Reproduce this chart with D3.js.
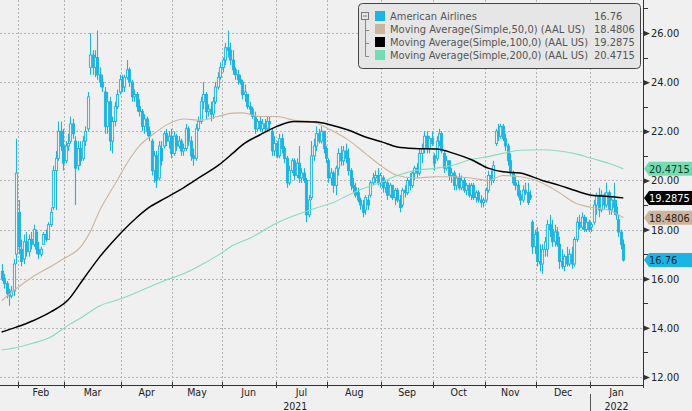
<!DOCTYPE html>
<meta charset="utf-8">
<style>
  body { margin: 0; background: #f0f0f0; }
  text { font-family: "DejaVu Sans Condensed", "DejaVu Sans", sans-serif; }
</style>
<body>
<script src="https://d3js.org/d3.v7.min.js"></script>
<script>
var width = 692, height = 411;

// month tick labels and index of each month's first trading day
var months = ["Feb", "Mar", "Apr", "May", "Jun", "Jul", "Aug", "Sep", "Oct", "Nov", "Dec", "Jan"];
var monthStart = [7, 26, 49, 70, 90, 112, 133, 155, 176, 197, 218, 240];
var years = ["2021", "2022"];
var yearStart = [0, 240];
var yTicks = [12, 14, 16, 18, 20, 22, 24, 26];

// daily candles, Jan 21 2021 .. Jan 21 2022: [open, high, low, close]
var candles = [
  [16.3,16.6,15.9,16.0],[16.0,16.2,15.6,15.8],[15.8,15.9,15.2,15.4],[15.4,15.6,14.9,15.3],
  [15.3,15.7,15.2,15.5],[15.5,16.8,15.3,16.6],[17.0,21.7,16.6,20.3],[18.7,19.2,17.0,17.3],
  [17.2,17.6,16.5,16.7],[16.8,17.8,16.6,17.5],[17.5,17.9,16.9,17.1],[17.1,17.8,16.9,17.6],
  [17.6,17.9,17.2,17.4],[17.4,18.2,17.3,18.0],[17.9,18.0,17.0,17.2],[17.2,17.5,16.8,17.0],
  [17.0,17.3,16.9,17.2],[17.4,17.9,17.4,17.8],[17.8,18.0,17.5,17.6],[17.6,18.3,17.6,18.2],
  [18.2,18.9,18.1,18.7],[18.9,20.6,18.8,20.4],[20.4,21.2,18.8,20.9],[20.9,22.4,20.8,22.0],
  [22.0,22.4,21.2,21.4],[21.4,22.1,20.4,20.7],[20.8,21.6,20.7,21.4],[21.4,21.9,21.2,21.5],
  [21.6,22.6,21.5,22.3],[22.3,22.5,21.7,21.9],[21.6,21.8,19.0,20.5],[20.6,21.6,20.4,21.3],
  [21.3,21.6,20.6,20.8],[20.9,21.8,20.8,21.6],[21.6,22.2,21.4,22.0],[22.1,23.6,22.0,23.4],
  [24.6,26.0,24.3,25.1],[25.1,25.3,24.3,24.6],[24.6,25.3,24.2,25.0],[25.0,26.1,24.1,24.3],
  [24.3,24.6,23.8,24.0],[24.0,24.3,23.6,23.8],[23.6,23.8,21.9,22.2],[22.2,23.6,21.9,23.2],
  [23.2,23.4,21.2,21.6],[21.6,22.6,21.1,22.4],[22.4,23.2,22.2,23.0],[23.0,23.7,22.9,23.5],
  [23.6,24.3,23.5,24.1],[24.1,24.3,23.6,23.8],[23.8,24.3,23.6,24.2],[24.2,24.9,24.1,24.5],
  [24.5,24.6,23.8,24.0],[24.0,24.1,23.2,23.4],[23.4,23.7,23.2,23.5],[23.5,23.6,22.8,23.0],
  [23.0,23.3,22.6,22.8],[22.8,22.9,22.0,22.2],[22.2,22.7,21.9,22.5],[22.5,22.6,21.8,22.0],
  [22.0,22.2,21.6,21.8],[21.6,21.7,20.2,20.4],[20.4,21.2,19.9,21.0],[21.0,21.2,19.7,20.0],
  [20.1,21.6,20.0,21.4],[21.3,21.6,20.6,20.8],[21.4,22.0,21.3,21.9],[21.9,22.1,21.4,21.6],
  [21.6,22.0,21.3,21.8],[21.8,22.1,20.9,21.1],[21.1,22.0,21.0,21.8],[21.8,21.9,21.2,21.4],
  [21.4,21.8,21.3,21.6],[21.6,21.7,21.0,21.2],[21.2,21.5,21.0,21.3],[21.3,22.3,21.2,22.1],
  [22.1,22.2,21.4,21.6],[21.6,21.8,20.8,21.0],[21.0,21.3,20.6,20.9],[20.9,22.3,20.8,22.1],
  [22.1,22.6,22.0,22.4],[22.4,23.4,22.3,23.2],[23.2,24.0,22.9,23.5],[23.5,23.6,22.5,22.8],
  [22.8,23.1,22.6,22.9],[22.9,23.2,22.4,22.7],[22.7,23.4,22.5,23.2],[23.2,24.0,23.1,23.8],
  [23.8,24.4,23.7,24.2],[24.2,24.8,24.1,24.6],[24.6,25.0,24.4,24.9],[24.9,25.6,24.7,25.4],
  [25.4,26.1,25.0,25.3],[25.3,25.6,24.7,24.9],[24.9,25.3,24.3,24.5],[24.5,24.6,24.1,24.3],
  [24.3,24.5,23.9,24.1],[24.1,24.3,23.9,24.0],[24.0,24.1,23.3,23.5],[23.5,23.9,23.2,23.6],
  [23.5,23.5,22.9,23.0],[23.0,23.2,22.7,22.9],[22.9,23.0,22.5,22.6],[22.6,22.8,21.9,22.1],
  [22.1,22.5,22.0,22.4],[22.4,22.6,22.0,22.1],[22.1,22.5,21.9,22.3],[22.3,22.5,22.0,22.1],
  [22.1,22.6,22.0,22.4],[22.4,22.6,22.1,22.3],[22.0,22.1,21.0,21.2],[21.2,21.8,21.0,21.5],
  [21.5,21.6,20.9,21.0],[21.0,21.9,20.9,21.7],[21.7,21.9,21.1,21.3],[21.3,21.4,20.7,20.9],
  [20.9,21.0,19.7,19.9],[19.9,20.6,19.8,20.4],[20.4,20.9,20.3,20.8],[20.8,20.9,20.0,20.2],
  [20.2,20.9,20.1,20.7],[20.7,21.4,19.9,20.1],[20.1,20.5,19.9,20.3],[20.3,20.5,19.9,20.0],
  [20.0,20.1,18.3,18.6],[18.6,19.4,18.5,19.2],[19.3,21.6,19.2,21.0],[21.0,21.7,20.8,21.4],
  [21.4,22.2,21.2,21.9],[21.9,22.1,21.5,21.6],[21.6,22.2,21.5,22.0],[22.0,22.0,21.1,21.3],
  [21.3,21.4,20.7,20.9],[20.8,20.9,19.9,20.1],[20.1,20.5,19.8,20.3],[20.3,20.4,19.5,19.8],
  [19.8,20.6,19.4,20.5],[20.5,21.3,20.2,21.1],[21.1,21.4,20.6,20.8],[20.8,21.4,20.6,21.2],
  [21.2,21.5,20.7,20.9],[20.9,21.3,20.2,20.4],[20.4,20.5,19.6,19.8],[19.8,20.1,19.5,19.7],
  [19.7,19.9,19.3,19.4],[19.5,19.7,19.1,19.2],[19.2,19.3,18.8,19.0],[19.0,19.2,18.5,18.7],
  [18.8,19.4,18.6,19.3],[19.2,19.4,18.8,19.0],[19.4,20.0,19.3,19.9],[19.9,20.3,19.8,20.1],
  [20.1,20.4,19.9,20.2],[20.2,20.5,19.8,19.9],[19.9,20.3,19.7,20.2],[20.1,20.2,19.5,19.7],
  [19.7,20.0,19.5,19.9],[19.9,20.0,19.2,19.4],[19.4,19.9,19.3,19.8],[19.8,19.8,19.2,19.3],
  [19.3,19.7,19.0,19.6],[19.6,19.7,19.1,19.2],[19.2,19.4,18.7,18.9],[19.0,19.7,18.9,19.6],
  [19.6,19.8,19.3,19.5],[19.5,20.1,19.4,20.0],[20.0,20.3,19.6,19.8],[19.8,20.4,19.7,20.3],
  [20.3,20.6,20.0,20.5],[20.5,20.7,20.1,20.3],[20.3,21.3,20.2,21.1],[21.1,21.5,20.7,21.3],
  [21.3,22.0,21.1,21.8],[21.8,22.0,21.1,21.3],[21.3,21.8,21.1,21.7],[21.7,22.0,21.4,21.5],
  [21.0,21.1,20.4,20.7],[20.9,21.8,20.8,21.6],[21.6,22.1,21.4,21.9],[21.9,22.0,21.1,21.2],
  [21.1,21.2,20.3,20.5],[20.5,21.0,20.4,20.8],[20.8,20.8,20.0,20.2],[20.2,20.5,19.9,20.3],
  [20.3,20.4,19.6,19.8],[19.8,20.2,19.6,20.1],[20.1,20.3,19.6,19.7],[19.7,20.2,19.6,20.0],
  [20.0,20.1,19.5,19.6],[19.6,19.9,19.4,19.8],[19.8,19.9,19.3,19.4],[19.4,19.9,19.2,19.8],
  [19.8,19.9,19.2,19.3],[19.3,19.6,19.1,19.5],[19.5,19.6,19.1,19.2],[19.2,19.4,18.9,19.1],
  [19.1,19.3,18.9,19.2],[19.2,19.7,19.1,19.6],[19.6,20.4,19.5,20.2],[20.2,20.4,19.8,20.0],
  [20.0,20.8,19.9,20.6],[21.5,22.1,21.4,22.0],[22.0,22.3,21.6,21.8],[21.8,22.3,21.7,22.2],
  [22.2,22.3,21.6,21.7],[21.7,21.9,21.2,21.4],[21.4,21.5,20.6,20.8],[20.8,21.1,20.2,20.3],
  [20.3,20.4,19.8,19.9],[19.9,20.2,19.6,19.8],[19.8,20.0,19.3,19.4],[19.4,19.6,19.0,19.2],
  [19.2,19.8,19.1,19.6],[19.6,19.9,19.4,19.5],[19.5,19.9,19.0,19.1],[19.4,19.6,19.2,19.3],
  [18.3,18.4,17.0,17.3],[17.3,18.0,17.0,17.8],[17.9,18.1,16.5,16.7],[16.7,17.4,16.3,16.6],
  [16.6,17.4,16.2,17.2],[17.2,17.7,16.9,17.5],[17.2,18.4,16.9,18.2],[18.2,18.6,17.7,18.0],
  [18.0,18.4,17.3,17.5],[17.5,18.2,17.3,17.9],[17.9,18.1,17.3,17.4],[17.4,17.7,16.4,16.7],
  [16.7,17.2,16.4,16.5],[16.5,17.0,16.3,16.9],[16.9,17.3,16.5,16.6],[16.6,17.2,16.5,17.0],
  [17.0,17.3,16.4,16.6],[16.6,17.7,16.5,17.6],[17.6,18.5,17.5,18.3],[18.3,18.6,18.0,18.1],
  [18.1,18.7,18.0,18.5],[18.5,18.6,17.9,18.0],[18.0,18.5,17.9,18.3],[18.3,18.4,17.9,18.0],
  [18.1,18.3,17.9,18.2],[18.3,19.2,18.2,19.0],[19.0,19.5,18.6,19.4],[19.4,19.7,18.5,18.8],
  [18.8,19.6,18.7,19.4],[19.4,19.5,18.8,19.0],[19.0,19.9,18.9,19.5],[19.5,19.6,18.6,18.8],
  [18.8,19.3,18.6,19.2],[19.2,19.9,18.6,18.9],[18.9,19.2,18.4,18.6],[18.4,18.6,17.7,17.9],
  [17.9,18.0,17.2,17.4],[17.4,17.6,16.7,16.76]
];

// moving averages: [candle index, value]
var ma50 = [[0,15.1],[6,15.6],[13,16.1],[20,16.5],[25,16.8],[33,17.4],[36,17.9],[40,18.8],[44,19.5],
  [47,20.0],[51,20.7],[56,21.4],[62,21.9],[67,22.25],[74,22.5],[81,22.45],[88,22.6],[94,22.74],
  [98,22.75],[105,22.6],[112,22.6],[119,22.45],[126,22.4],[134,22.05],[141,21.65],[148,21.1],
  [155,20.55],[161,20.2],[168,20.1],[177,20.15],[184,20.15],[191,20.1],[198,20.0],[204,20.2],
  [211,20.15],[220,19.9],[227,19.5],[233,19.1],[240,18.9],[247,18.8],[253,18.48]];
var ma100 = [[0,13.83],[6,14.03],[13,14.3],[20,14.65],[27,15.13],[33,15.95],[40,16.9],[47,17.7],
  [54,18.4],[60,18.9],[67,19.3],[74,19.7],[81,20.15],[88,20.6],[94,21.1],[98,21.45],[105,21.85],
  [112,22.2],[119,22.4],[128,22.38],[134,22.26],[141,22.05],[148,21.77],[155,21.56],[161,21.36],
  [168,21.3],[177,21.28],[184,21.1],[191,20.85],[198,20.5],[204,20.35],[211,20.3],[220,20.0],
  [227,19.8],[233,19.6],[240,19.4],[247,19.35],[253,19.29]];
var ma200 = [[0,13.1],[7,13.22],[13,13.38],[20,13.63],[27,14.1],[33,14.45],[40,14.9],[47,15.13],
  [54,15.4],[60,15.66],[67,15.95],[74,16.2],[81,16.55],[88,16.95],[94,17.35],[101,17.65],[112,18.27],
  [128,18.88],[135,19.1],[141,19.4],[148,19.7],[155,19.95],[161,20.2],[168,20.4],[177,20.5],
  [184,20.63],[191,20.85],[198,20.97],[204,21.1],[211,21.23],[219,21.25],[227,21.2],[235,21.05],
  [240,20.9],[247,20.7],[253,20.47]];

var legendNames = ["American Airlines", "Moving Average(Simple,50,0) (AAL US)",
  "Moving Average(Simple,100,0) (AAL US)", "Moving Average(Simple,200,0) (AAL US)"];
var lastValues = ["16.76", "18.4806", "19.2875", "20.4715"];
var lastNumbers = [16.76, 18.4806, 19.2875, 20.4715];

var colors = ["#1cb4e2", "#cdb49c", "#000000", "#74dcb2"];
var tagText = ["#0a2a3a", "#2a2018", "#ffffff", "#0e3a26"];
var nameWidths = [null, 195, 198, 198];

var plotRight = 643, axisY = 385;

var x = d3.scaleLinear().domain([0, 261.5]).range([0.4, plotRight]);
var y = d3.scaleLinear().domain([12, 26]).range([377, 33]);

var svg = d3.select("body").append("svg")
  .attr("width", width)
  .attr("height", height)
  .style("display", "block")
  .style("background", "#f0f0f0");

// grid
svg.append("g").selectAll("line").data(yTicks).enter().append("line")
  .attr("x1", 0).attr("x2", plotRight)
  .attr("y1", function(d) { return Math.round(y(d)) + 0.5; })
  .attr("y2", function(d) { return Math.round(y(d)) + 0.5; })
  .style("stroke", "#b4b4b4").style("stroke-dasharray", "2,2");

svg.append("g").selectAll("line").data(monthStart).enter().append("line")
  .attr("x1", function(d) { return Math.round(x(d)) + 0.5; })
  .attr("x2", function(d) { return Math.round(x(d)) + 0.5; })
  .attr("y1", 0).attr("y2", axisY)
  .style("stroke", "#b4b4b4").style("stroke-dasharray", "2,2");

// candles
var cw = 2.2;
var cg = svg.append("g");
cg.selectAll("line").data(candles).enter().append("line")
  .attr("x1", function(d, i) { return Math.round(x(i + 0.5)) + 0.5; })
  .attr("x2", function(d, i) { return Math.round(x(i + 0.5)) + 0.5; })
  .attr("y1", function(d) { return y(d[1]); })
  .attr("y2", function(d) { return y(d[2]); })
  .style("stroke", colors[0]).style("stroke-width", 1.1);

cg.selectAll("rect").data(candles).enter().append("rect")
  .attr("x", function(d, i) { return Math.round(x(i + 0.5)) + 0.5 - cw / 2; })
  .attr("width", cw)
  .attr("y", function(d) { return y(Math.max(d[0], d[3])); })
  .attr("height", function(d) { return Math.max(1, Math.abs(y(d[0]) - y(d[3]))); })
  .style("fill", function(d) { return d[3] > d[0] ? "#f0f0f0" : colors[0]; })
  .style("stroke", colors[0]).style("stroke-width", 0.9);

// moving averages
var line = d3.line()
  .x(function(d) { return x(d[0] + 0.5); })
  .y(function(d) { return y(d[1]); })
  .curve(d3.curveMonotoneX);

svg.append("path").datum(ma200).attr("d", line)
  .style("fill", "none").style("stroke", "#86ddb9").style("stroke-width", 1.1);
svg.append("path").datum(ma50).attr("d", line)
  .style("fill", "none").style("stroke", "#cbb5a0").style("stroke-width", 1.1);
svg.append("path").datum(ma100).attr("d", line)
  .style("fill", "none").style("stroke", "#000").style("stroke-width", 1.5);

// right axis
svg.append("line")
  .attr("x1", plotRight + 0.5).attr("x2", plotRight + 0.5)
  .attr("y1", 0).attr("y2", axisY)
  .style("stroke", "#333");

var yAxis = svg.append("g")
  .attr("transform", "translate(" + plotRight + ",0)")
  .call(d3.axisRight(y).tickValues(yTicks).tickFormat(d3.format(".2f"))
    .tickSize(0).tickPadding(8).tickSizeOuter(0));
yAxis.select(".domain").remove();
yAxis.selectAll("text").style("font-size", "11px").style("fill", "#222")
  .style("font-family", "'DejaVu Sans Condensed', 'DejaVu Sans', sans-serif");
yAxis.selectAll(".tick").append("path")
  .attr("d", "M0,-3L7,0L0,3Z").style("fill", "#333");

var minor = d3.range(13, 28, 2);
svg.append("g").selectAll("line").data(minor).enter().append("line")
  .attr("x1", plotRight).attr("x2", plotRight + 5)
  .attr("y1", function(d) { return Math.round(y(d)) + 0.5; })
  .attr("y2", function(d) { return Math.round(y(d)) + 0.5; })
  .style("stroke", "#333");

// value tags on the right axis
var tags = svg.append("g");
[3, 2, 1, 0].forEach(function(k) {
  var ty = y(lastNumbers[k]);
  tags.append("path")
    .attr("d", "M" + (plotRight + 1) + "," + ty + "L" + (plotRight + 6) + "," + (ty - 7) +
      "L" + width + "," + (ty - 7) + "L" + width + "," + (ty + 7) +
      "L" + (plotRight + 6) + "," + (ty + 7) + "Z")
    .style("fill", colors[k]);
  tags.append("text")
    .attr("x", plotRight + 6).attr("y", ty)
    .attr("dy", "0.36em")
    .style("font-size", "11px")
    .style("fill", tagText[k])
    .text(lastValues[k]);
});

// bottom axis
svg.append("line")
  .attr("x1", 0).attr("x2", plotRight + 1)
  .attr("y1", axisY + 0.5).attr("y2", axisY + 0.5)
  .style("stroke", "#333");

var ends = monthStart.slice(1).concat([261.5]);
svg.append("g").selectAll("line").data(monthStart.concat([261.5])).enter().append("line")
  .attr("x1", function(d) { return Math.round(x(d)) + 0.5; })
  .attr("x2", function(d) { return Math.round(x(d)) + 0.5; })
  .attr("y1", axisY - 3).attr("y2", axisY + 3)
  .style("stroke", "#333");

svg.append("g").selectAll("text").data(months).enter().append("text")
  .attr("x", function(d, i) { return (x(monthStart[i]) + x(ends[i])) / 2; })
  .attr("y", 396)
  .attr("text-anchor", "middle")
  .style("font-size", "10.5px").style("fill", "#222")
  .text(function(d) { return d; });

var yearEnds = [240, 261.5];
svg.append("g").selectAll("text").data(years).enter().append("text")
  .attr("x", function(d, i) { return (x(yearStart[i]) + x(yearEnds[i])) / 2; })
  .attr("y", 409.5)
  .attr("text-anchor", "middle")
  .style("font-size", "10.5px").style("fill", "#222")
  .text(function(d) { return d; });

svg.append("line")
  .attr("x1", Math.round(x(yearStart[1])) + 0.5).attr("x2", Math.round(x(yearStart[1])) + 0.5)
  .attr("y1", axisY + 9).attr("y2", height)
  .style("stroke", "#555");

// legend
var lg = svg.append("g").attr("transform", "translate(358,3)");
lg.append("rect")
  .attr("x", 0.5).attr("y", 0.5).attr("width", 282).attr("height", 65)
  .attr("rx", 4)
  .style("fill", "#e6e6e6").style("stroke", "#444");

lg.append("rect").attr("x", 3.5).attr("y", 9.5).attr("width", 7).attr("height", 7)
  .style("fill", "none").style("stroke", "#777");
lg.append("line").attr("x1", 5).attr("x2", 9).attr("y1", 13).attr("y2", 13).style("stroke", "#777");
lg.append("path").attr("d", "M7.5,17V53.5H11M7.5,27.5H11M7.5,40.5H11")
  .style("fill", "none").style("stroke", "#888");

legendNames.forEach(function(name, i) {
  var ry = 13 + i * 13;
  lg.append("rect").attr("x", 17).attr("y", ry - 5).attr("width", 10).attr("height", 10)
    .style("fill", colors[i]);
  var t = lg.append("text").attr("x", 32).attr("y", ry).attr("dy", "0.36em")
    .style("font-size", "11px").style("fill", "#555").text(name);
  if (nameWidths[i]) t.attr("textLength", nameWidths[i]).attr("lengthAdjust", "spacing");
  lg.append("text").attr("x", 236).attr("y", ry).attr("dy", "0.36em")
    .style("font-size", "11px").style("fill", "#555").text(lastValues[i]);
});
</script>
</body>
